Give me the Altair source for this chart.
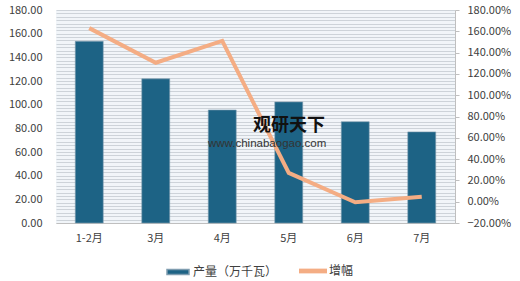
import altair as alt
import pandas as pd

months = ["1-2月", "3月", "4月", "5月", "6月", "7月"]
output = [153.5, 121.8, 95.5, 102.3, 85.6, 77.0]
growth = [1.63, 1.305, 1.51, 0.27, -0.005, 0.047]
right_ticks = [-0.2, 0.0, 0.2, 0.4, 0.6, 0.8, 1.0, 1.2, 1.4, 1.6, 1.8]
series_bar = "产量（万千瓦）"
series_line = "增幅"

df = pd.DataFrame({"month": months, "output": output, "growth": growth,
                   "s1": series_bar, "s2": series_line})

# fine horizontal stripe pattern of the plot background (styling only)
stripe_vals = [round(i * 20 / 7, 4) for i in range(64)]

FONT = "Noto Sans CJK SC"
TXT = "#404040"
BAR = "#1D6385"
LINE = "#F4AD84"

x = alt.X("month:N", sort=months,
          scale=alt.Scale(paddingInner=0.58, paddingOuter=0.29),
          axis=alt.Axis(title=None, labelAngle=0, ticks=False, domainColor="#BFBFBF",
                        labelPadding=9, labelFontSize=11, labelColor=TXT, labelFont=FONT))

bars = alt.Chart(df).mark_bar(color=BAR, stroke="#7F9DB0", strokeWidth=0.6).encode(
    x=x,
    y=alt.Y("output:Q", scale=alt.Scale(domain=[0, 180], nice=False),
            axis=alt.Axis(title=None, values=stripe_vals,
                          labelExpr="abs(datum.value/20 - round(datum.value/20)) < 0.001 ? format(datum.value, '.2f') : ''",
                          labelOverlap=False, grid=True, gridColor="#CDD3D9", gridWidth=1,
                          ticks=False, domain=False, labelPadding=14,
                          labelFontSize=11, labelColor=TXT, labelFont=FONT)),
    color=alt.Color("s1:N", scale=alt.Scale(range=[BAR]),
                    legend=alt.Legend(title=None, orient="none", legendX=110, legendY=250,
                                      symbolType="M-1,-0.22H1V0.22H-1Z", symbolSize=484,
                                      labelFontSize=12, labelColor=TXT, labelFont=FONT,
                                      labelOffset=3))
)

line = alt.Chart(df).mark_line(strokeWidth=4, color=LINE).encode(
    x=x,
    y=alt.Y("growth:Q", scale=alt.Scale(domain=[-0.2, 1.8], nice=False, zero=False),
            axis=alt.Axis(title=None, orient="right", values=right_ticks, format=".2%",
                          grid=False, tickSize=4, tickColor="#BFBFBF", domainColor="#BFBFBF",
                          labelPadding=8, labelFontSize=11, labelColor=TXT, labelFont=FONT)),
    stroke=alt.Stroke("s2:N", scale=alt.Scale(range=[LINE]),
                      legend=alt.Legend(title=None, orient="none", legendX=243, legendY=247,
                                        symbolType="M-1,-0.17H1V0.17H-1Z", symbolSize=784,
                                        symbolFillColor=LINE, symbolStrokeWidth=0,
                                        labelFontSize=12, labelColor=TXT, labelFont=FONT,
                                        labelOffset=2))
)

wm = pd.DataFrame({"t": ["观研天下"]})
wm2 = pd.DataFrame({"t": ["www.chinabaogao.com"]})
mark1 = alt.Chart(wm).mark_text(font=FONT, fontSize=18, fontWeight="bold", color="#111111",
                                align="left", baseline="middle").encode(
    x=alt.value(197), y=alt.value(116), text="t:N")
mark2 = alt.Chart(wm2).mark_text(font="Liberation Sans", fontSize=11.5, color="#333333",
                                 align="left", baseline="middle").encode(
    x=alt.value(152), y=alt.value(134), text="t:N")

chart = alt.layer(bars, line, mark1, mark2).resolve_scale(
    y="independent", color="independent", stroke="independent"
).properties(
    width=399, height=213,
    autosize=alt.AutoSizeParams(type="none"),
    padding={"left": 56, "top": 10, "right": 65, "bottom": 58},
    background="white"
).configure_view(fill="#F1F5F9", stroke=None)

chart.save("out.html", embed_options={"renderer": "svg", "actions": False})
